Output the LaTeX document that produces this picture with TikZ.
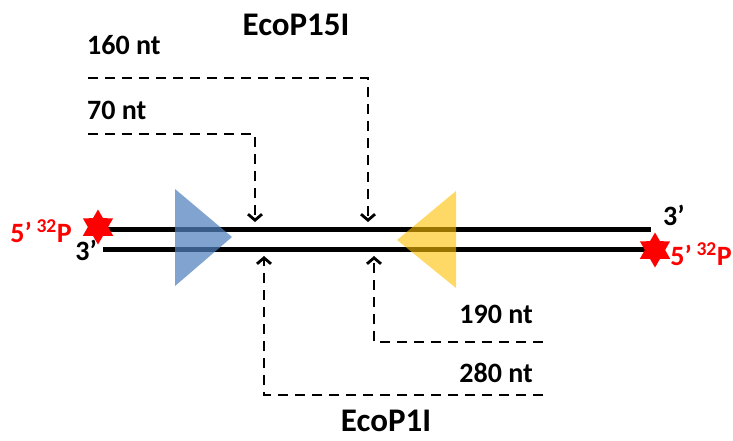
\documentclass[tikz,border=0pt]{standalone}
\usepackage{fontspec}
\setmainfont{Carlito}
\usetikzlibrary{arrows.meta,shapes.geometric}
\definecolor{labelred}{RGB}{255,0,0}
\definecolor{siteblue}{RGB}{79,129,189}
\definecolor{siteyellow}{RGB}{255,192,0}
\tikzset{
	strand/.style={line width=5pt},
	cutpath/.style={line width=2.8pt, dash pattern=on 10pt off 7pt, -{Straight Barb[length=6pt,width=14pt]}},
	ntlabel/.style={font=\fontsize{28}{30}\selectfont\bfseries, inner sep=0pt},
	enzyme/.style={font=\fontsize{33}{36}\selectfont\bfseries, inner sep=0pt},
	endlabel/.style={font=\fontsize{28}{30}\selectfont\bfseries, inner sep=0pt},
	hotstar/.style={star, star points=6, star point ratio=1.73, minimum size=35pt, inner sep=0pt, fill=labelred}
}

\begin{document}
\begin{tikzpicture}[x=1pt,y=-1pt]
	%%%%% START %%%%%
	\useasboundingbox[fill=white] (0,0) rectangle (733,440);
	
	% DNA strands
	\coordinate (topL) at (98,229);
	\coordinate (topR) at (651,229);
	\coordinate (botL) at (103,249);
	\coordinate (botR) at (655,249);
	\draw[strand] (topL) -- (topR);
	\draw[strand] (botL) -- (botR);
	
	% recognition sites
	\fill[siteblue, fill opacity=0.72] (175,189) -- (232,237) -- (175,286) -- cycle;
	\fill[siteyellow, fill opacity=0.6] (456,191) -- (397,240) -- (456,288) -- cycle;
	
	% labelled 5' ends
	\node[hotstar] (starL) at (98,227) {};
	\node[hotstar] (starR) at (655,250) {};
	\node[endlabel, text=labelred, anchor=base east] (p5L) at (72,242) {5’\,\textsuperscript{32}P};
	\node[endlabel, anchor=base east] (p3L) at (97,260) {3’};
	\node[endlabel, anchor=base west] (p3R) at (663,225) {3’};
	\node[endlabel, text=labelred, anchor=base east] (p5R) at (732,265) {5’\,\textsuperscript{32}P};
	
	% EcoP15I cleavage
	\node[enzyme] (ecop15) at (296,25) {EcoP15I};
	\node[ntlabel, anchor=west] (n160) at (87,45) {160 nt};
	\node[ntlabel, anchor=west] (n70) at (87,110) {70 nt};
	\coordinate (s160) at (88,78);
	\coordinate (s70) at (88,134);
	\coordinate (t160) at (368,222);
	\coordinate (t70) at (255,222);
	\draw[cutpath] (s160) -| (t160);
	\draw[cutpath] (s70) -| (t70);
	
	% EcoP1I cleavage
	\node[ntlabel, anchor=east] (n190) at (533,314) {190 nt};
	\node[ntlabel, anchor=east] (n280) at (533,373) {280 nt};
	\node[enzyme] (ecop1) at (386,421) {EcoP1I};
	\coordinate (e190) at (543,342);
	\coordinate (e280) at (543,395);
	\coordinate (t190) at (374,256);
	\coordinate (t280) at (264,256);
	\draw[cutpath] (e190) -| (t190);
	\draw[cutpath] (e280) -| (t280);
	
	%%%%% END %%%%%
\end{tikzpicture}
\end{document}
